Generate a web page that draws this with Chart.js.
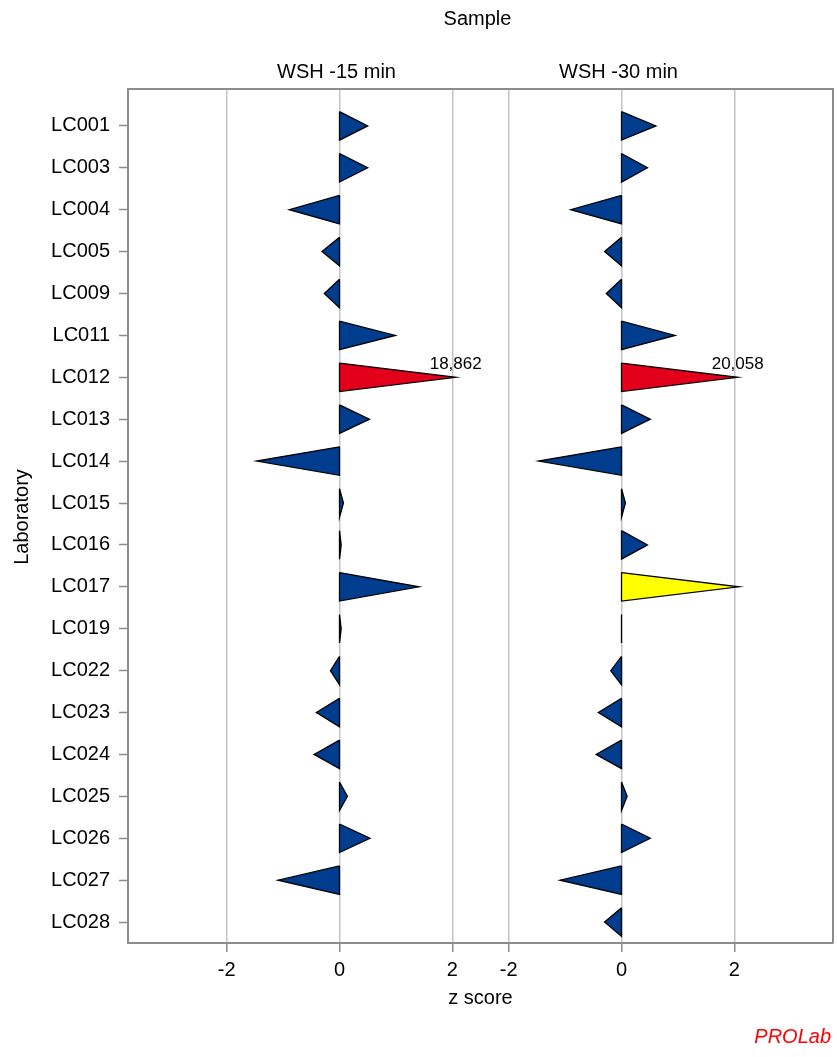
<!DOCTYPE html>
<html>
<head>
<meta charset="utf-8">
<script src="https://cdn.jsdelivr.net/npm/chart.js@4.4.1/dist/chart.umd.min.js"></script>
<style>
  html, body { margin: 0; padding: 0; background: #fff; }
  #wrap { width: 837px; height: 1057px; }
</style>
</head>
<body>
<div id="wrap"><canvas id="c" width="837" height="1057"></canvas></div>
<script>
// Laboratories, top to bottom
const labs = ['LC001', 'LC003', 'LC004', 'LC005', 'LC009', 'LC011', 'LC012', 'LC013', 'LC014', 'LC015',
              'LC016', 'LC017', 'LC019', 'LC022', 'LC023', 'LC024', 'LC025', 'LC026', 'LC027', 'LC028'];

// Sample panels
const samples = ['WSH -15 min', 'WSH -30 min'];

// z scores per laboratory (null = no result)
const zWsh15 = [0.50, 0.50, -0.89, -0.31, -0.27, 0.99, 18.862, 0.53, -1.47, 0.07,
                0.03, 1.41, 0.03, -0.16, -0.41, -0.45, 0.14, 0.54, -1.09, null];
const zWsh30 = [0.61, 0.46, -0.90, -0.30, -0.27, 0.95, 20.058, 0.51, -1.47, 0.07,
                0.46, 2.08, 0.00, -0.19, -0.41, -0.45, 0.10, 0.51, -1.09, -0.30];

// Tick values shown under each panel
const zTicks = [-2, 0, 2];

const series = [zWsh15, zWsh30];
const panelShift = [0, 5];   // where each panel's zero sits on the shared x axis
const zLimit = 3;            // scores beyond this are out of range
const zCap = 2.06;           // out-of-range scores are drawn to this length and labelled
const half = 0.34;           // half height of a triangle, in category units

const FONT = '"Liberation Sans", Arial, sans-serif';
const BLUE = '#003D8E', RED = '#E2001A', YELLOW = '#FFFF00';
const AXIS = '#8C8C8C', GRID = '#C4C4C4';

function colorFor(z) {
  const a = Math.abs(z);
  if (a > zLimit) return RED;
  if (a > 2) return YELLOW;
  return BLUE;
}

function drawnScore(z) {
  return Math.abs(z) > zLimit ? Math.sign(z) * zCap : z;
}

// One closed triangle per result: base on the panel's zero line, tip at the score
const datasets = [];
series.forEach((vals, p) => {
  const base = panelShift[p];
  vals.forEach((z, i) => {
    if (z === null) return;
    const tip = drawnScore(z);
    datasets.push({
      data: [
        { x: base, y: i - half },
        { x: base + tip, y: i },
        { x: base, y: i + half },
        { x: base, y: i - half }
      ],
      showLine: true,
      fill: 'shape',
      backgroundColor: colorFor(z),
      borderColor: '#000',
      borderWidth: 1.3,
      borderJoinStyle: 'miter',
      pointRadius: 0,
      pointHoverRadius: 0,
      tension: 0,
      zValue: z,
      panel: p,
      row: i
    });
  });
});

// Tick positions on the shared x axis
const xTickList = [];
panelShift.forEach(s => zTicks.forEach(t => xTickList.push({ value: s + t, label: String(t) })));

const frameAndText = {
  id: 'frameAndText',
  afterDatasetsDraw(chart) {
    const { ctx, chartArea: a, scales: { x, y } } = chart;
    ctx.save();
    // top and right edges of the plot frame
    ctx.strokeStyle = AXIS;
    ctx.lineWidth = 2;
    ctx.beginPath();
    ctx.moveTo(a.left, a.top);
    ctx.lineTo(a.right, a.top);
    ctx.lineTo(a.right, a.bottom);
    ctx.stroke();

    // value labels for out-of-range scores
    ctx.fillStyle = '#000';
    ctx.font = '17px ' + FONT;
    ctx.textAlign = 'center';
    ctx.textBaseline = 'middle';
    chart.data.datasets.forEach(ds => {
      if (Math.abs(ds.zValue) > zLimit) {
        const tip = drawnScore(ds.zValue) + panelShift[ds.panel];
        ctx.fillText(ds.zValue.toFixed(3).replace('.', ','), x.getPixelForValue(tip), y.getPixelForValue(ds.row - 0.31));
      }
    });
    ctx.restore();
  },
  afterDraw(chart) {
    const { ctx, chartArea: a, scales: { x } } = chart;
    ctx.save();
    ctx.fillStyle = '#000';
    ctx.font = '20px ' + FONT;
    ctx.textAlign = 'center';
    ctx.textBaseline = 'middle';
    ctx.fillText('Sample', (a.left + a.right) / 2 - 3, 19);
    samples.forEach((s, p) => ctx.fillText(s, x.getPixelForValue(panelShift[p]) - 3, 72));
    ctx.fillText('z score', (a.left + a.right) / 2, 998);

    ctx.save();
    ctx.translate(22, 517);
    ctx.rotate(-Math.PI / 2);
    ctx.fillText('Laboratory', 0, 0);
    ctx.restore();

    ctx.fillStyle = '#FF0000';
    ctx.font = 'italic 20px ' + FONT;
    ctx.textAlign = 'right';
    ctx.fillText('PROLab', 831, 1037);
    ctx.restore();
  }
};

new Chart(document.getElementById('c'), {
  type: 'scatter',
  data: { datasets },
  options: {
    responsive: false,
    animation: false,
    devicePixelRatio: 1,
    layout: { padding: { top: 89, right: 4, bottom: 0, left: 0 } },
    plugins: { legend: { display: false }, tooltip: { enabled: false }, title: { display: false } },
    scales: {
      x: {
        type: 'linear',
        min: -3.75,
        max: 8.75,
        afterFit: s => { s.height = 114; },
        afterBuildTicks: s => { s.ticks = xTickList.map(t => ({ value: t.value })); },
        ticks: {
          autoSkip: false,
          maxRotation: 0,
          padding: 6,
          color: '#000',
          font: { family: FONT, size: 20 },
          callback: v => {
            const t = xTickList.find(e => e.value === v);
            return t ? t.label : '';
          }
        },
        grid: { color: GRID, lineWidth: 1.5, tickColor: AXIS, tickLength: 9, tickWidth: 1.5 },
        border: { display: true, color: AXIS, width: 2 }
      },
      y: {
        type: 'linear',
        reverse: true,
        min: -0.88,
        max: 19.5,
        afterFit: s => { s.width = 128; },
        afterBuildTicks: s => { s.ticks = labs.map((_, i) => ({ value: i })); },
        ticks: {
          autoSkip: false,
          padding: 9,
          color: '#000',
          font: { family: FONT, size: 20 },
          callback: v => labs[v] ?? ''
        },
        grid: { drawOnChartArea: false, tickColor: AXIS, tickLength: 9, tickWidth: 1.5 },
        border: { display: true, color: AXIS, width: 2 }
      }
    }
  },
  plugins: [frameAndText]
});
</script>
</body>
</html>
